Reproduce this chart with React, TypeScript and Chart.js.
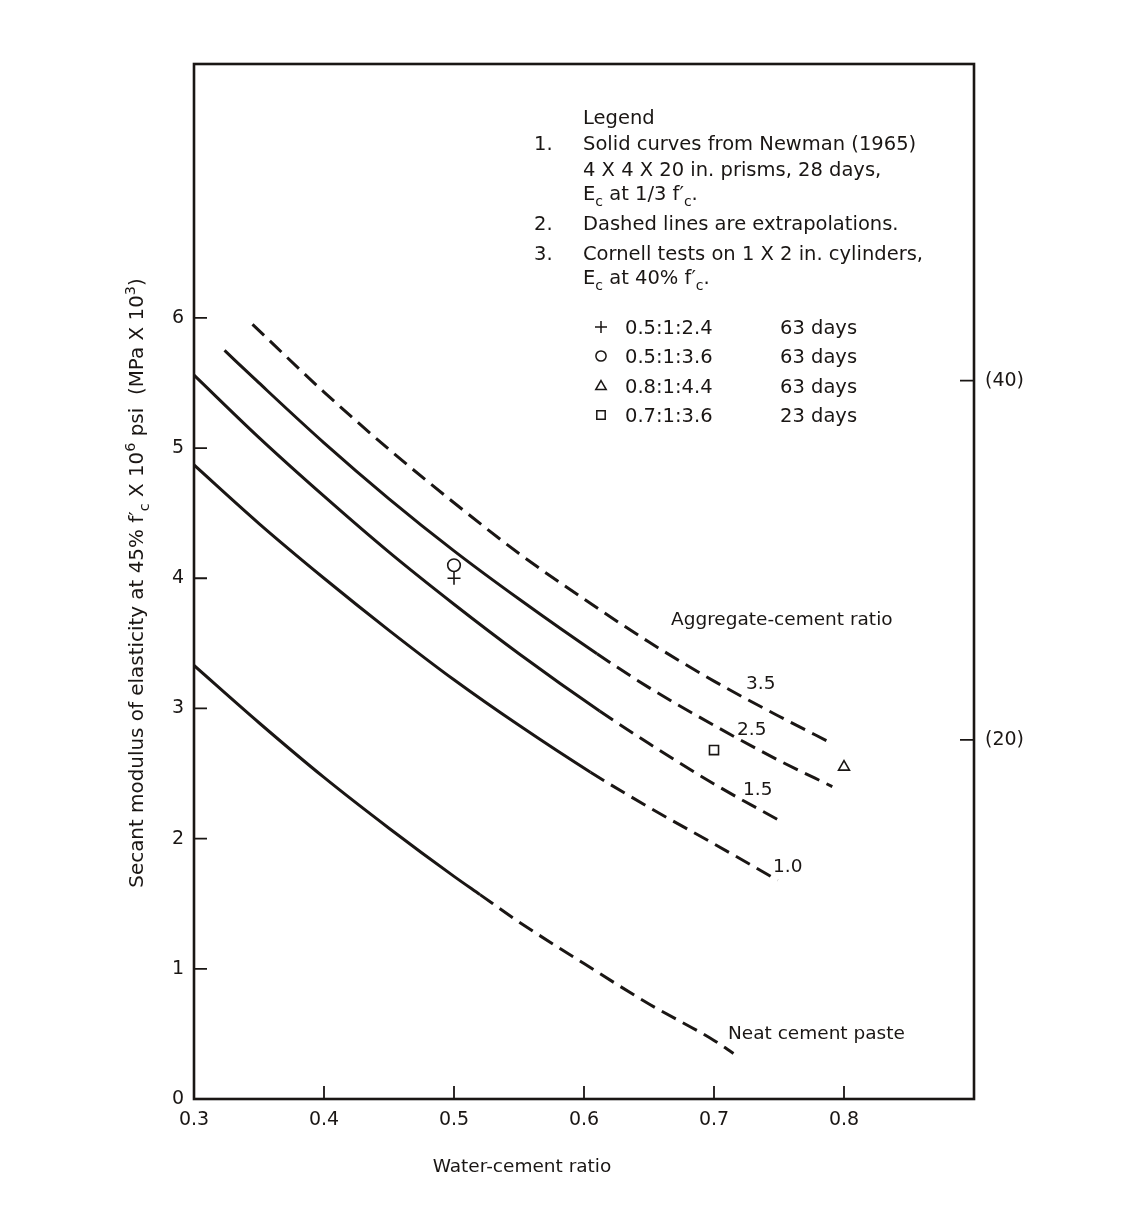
import React, { useEffect, useRef } from 'react';
import { Chart, registerables } from 'chart.js';

Chart.register(...registerables);

// ---------------- data ----------------
const xTickValues = [0.3, 0.4, 0.5, 0.6, 0.7, 0.8];
const yTickValues = [0, 1, 2, 3, 4, 5, 6];
const mpaTickValues = [20, 40];

const curveNames = ['Neat cement paste', '1.0', '1.5', '2.5', '3.5'];

const neatWC = [0.30, 0.35, 0.40, 0.45, 0.50, 0.52, 0.55, 0.60, 0.65, 0.70, 0.715];
const neatE = [3.33, 2.89, 2.47, 2.08, 1.71, 1.57, 1.36, 1.04, 0.73, 0.45, 0.35];

const ac10WC = [0.30, 0.35, 0.40, 0.45, 0.50, 0.55, 0.605, 0.65, 0.70, 0.749];
const ac10E = [4.87, 4.42, 4.00, 3.60, 3.22, 2.87, 2.51, 2.24, 1.96, 1.68];

const ac15WC = [0.30, 0.35, 0.40, 0.45, 0.50, 0.55, 0.612, 0.65, 0.70, 0.752];
const ac15E = [5.56, 5.08, 4.63, 4.20, 3.80, 3.42, 2.98, 2.73, 2.42, 2.13];

const ac25WC = [0.3235, 0.35, 0.40, 0.45, 0.50, 0.55, 0.61, 0.65, 0.70, 0.75, 0.791];
const ac25E = [5.75, 5.50, 5.04, 4.61, 4.21, 3.84, 3.42, 3.16, 2.87, 2.60, 2.40];

const ac35WC = [0.345, 0.40, 0.45, 0.50, 0.55, 0.60, 0.65, 0.70, 0.75, 0.791];
const ac35E = [5.95, 5.43, 4.99, 4.58, 4.19, 3.84, 3.51, 3.21, 2.94, 2.73];

// water-cement ratio beyond which each curve is an extrapolation (dashed)
const extrapolationFrom = [0.52, 0.605, 0.612, 0.61, 0.345];

const cornellWC = [0.5, 0.5, 0.8, 0.7];
const cornellE = [4.0, 4.1, 2.55, 2.68];
const cornellMix = ['0.5:1:2.4', '0.5:1:3.6', '0.8:1:4.4', '0.7:1:3.6'];
const cornellAge = ['63 days', '63 days', '63 days', '23 days'];
const cornellSymbol = ['cross', 'circle', 'triangle', 'rect'];

// ---------------- styling / layout ----------------
const FONT = '"DejaVu Sans", "Liberation Sans", sans-serif';
const INK = '#1a1614';
const W = 1134;
const H = 1222;
const AREA = { left: 194, top: 64, right: 974, bottom: 1099 };
const Y_MAX = 7.95;
const MPA_PER_UNIT = 7.25;

type Part = { t: string; sub?: boolean; sup?: boolean };

function partsWidth(ctx: CanvasRenderingContext2D, parts: Part[], size: number) {
  let w = 0;
  for (const p of parts) {
    const s = p.sub || p.sup ? size * 0.72 : size;
    ctx.font = `${s}px ${FONT}`;
    w += ctx.measureText(p.t).width;
  }
  return w;
}

function drawParts(ctx: CanvasRenderingContext2D, parts: Part[], x: number, y: number, size: number) {
  let cx = x;
  for (const p of parts) {
    const s = p.sub || p.sup ? size * 0.72 : size;
    ctx.font = `${s}px ${FONT}`;
    const dy = p.sub ? size * 0.32 : p.sup ? -size * 0.42 : 0;
    ctx.fillText(p.t, cx, y + dy);
    cx += ctx.measureText(p.t).width;
  }
}

const legendLines: { num?: string; parts: Part[]; y: number }[] = [
  { parts: [{ t: 'Legend' }], y: 124 },
  { num: '1.', parts: [{ t: 'Solid curves from Newman (1965)' }], y: 150 },
  { parts: [{ t: '4 X 4 X 20 in. prisms, 28 days,' }], y: 176 },
  { parts: [{ t: 'E' }, { t: 'c', sub: true }, { t: ' at 1/3 f′' }, { t: 'c', sub: true }, { t: '.' }], y: 200 },
  { num: '2.', parts: [{ t: 'Dashed lines are extrapolations.' }], y: 230 },
  { num: '3.', parts: [{ t: 'Cornell tests on 1 X 2 in. cylinders,' }], y: 260 },
  { parts: [{ t: 'E' }, { t: 'c', sub: true }, { t: ' at 40% f′' }, { t: 'c', sub: true }, { t: '.' }], y: 284 },
];
const legendRowY = [334, 363, 393, 422];

const curveLabelPos = [
  { x: 728, y: 1039 },
  { x: 773, y: 872 },
  { x: 743, y: 795 },
  { x: 737, y: 735 },
  { x: 746, y: 689 },
];

function drawSymbol(ctx: CanvasRenderingContext2D, kind: string, x: number, y: number, r: number) {
  ctx.beginPath();
  if (kind === 'cross') {
    ctx.moveTo(x - r, y); ctx.lineTo(x + r, y);
    ctx.moveTo(x, y - r); ctx.lineTo(x, y + r);
  } else if (kind === 'circle') {
    ctx.arc(x, y, r * 0.85, 0, Math.PI * 2);
  } else if (kind === 'triangle') {
    const h = r * 1.5;
    ctx.moveTo(x, y - h * 0.6); ctx.lineTo(x + r * 0.87, y + h * 0.4); ctx.lineTo(x - r * 0.87, y + h * 0.4); ctx.closePath();
  } else {
    const s = r * 0.7;
    ctx.rect(x - s, y - s, 2 * s, 2 * s);
  }
  ctx.stroke();
}

const overlay = {
  id: 'overlay',
  beforeDraw(chart: any) {
    const { ctx } = chart;
    ctx.save();
    ctx.fillStyle = '#ffffff';
    ctx.fillRect(0, 0, chart.width, chart.height);
    ctx.restore();
  },
  afterDraw(chart: any) {
    const { ctx, chartArea: a, scales } = chart;
    ctx.save();
    ctx.strokeStyle = INK;
    ctx.fillStyle = INK;
    // frame
    ctx.lineWidth = 2.6;
    ctx.strokeRect(a.left, a.top, a.right - a.left, a.bottom - a.top);
    // inward tick marks
    ctx.lineWidth = 1.8;
    ctx.beginPath();
    for (const v of yTickValues) {
      if (v === 0) continue;
      const py = scales.y.getPixelForValue(v);
      ctx.moveTo(a.left, py); ctx.lineTo(a.left + 13, py);
    }
    for (const v of xTickValues) {
      if (v === 0.3) continue;
      const px = scales.x.getPixelForValue(v);
      ctx.moveTo(px, a.bottom); ctx.lineTo(px, a.bottom - 13);
    }
    for (const v of mpaTickValues) {
      const py = scales.y2.getPixelForValue(v);
      ctx.moveTo(a.right, py); ctx.lineTo(a.right - 14, py);
    }
    ctx.stroke();

    ctx.textAlign = 'left';
    ctx.textBaseline = 'alphabetic';
    // legend block
    for (const line of legendLines) {
      if (line.num) {
        ctx.font = `19.5px ${FONT}`;
        ctx.fillText(line.num, 534, line.y);
      }
      drawParts(ctx, line.parts, 583, line.y, 19.5);
    }
    ctx.lineWidth = 1.5;
    cornellMix.forEach((mix, i) => {
      const y = legendRowY[i];
      drawSymbol(ctx, cornellSymbol[i], 601, y - 7, 6);
      ctx.font = `19.5px ${FONT}`;
      ctx.fillText(mix, 625, y);
      ctx.fillText(cornellAge[i], 780, y);
    });

    // curve labels
    ctx.font = `18.5px ${FONT}`;
    ctx.fillText('Aggregate-cement ratio', 671, 625);
    curveNames.forEach((name, i) => {
      ctx.fillText(name, curveLabelPos[i].x, curveLabelPos[i].y);
    });

    // x title
    ctx.textAlign = 'center';
    ctx.font = `18.5px ${FONT}`;
    ctx.fillText('Water-cement ratio', 522, 1172);

    // y title (rotated)
    ctx.textAlign = 'left';
    const titleParts: Part[] = [
      { t: 'Secant modulus of elasticity at 45% f′' },
      { t: 'c', sub: true },
      { t: ' X 10' },
      { t: '6', sup: true },
      { t: ' psi  (MPa X 10' },
      { t: '3', sup: true },
      { t: ')' },
    ];
    const w20 = partsWidth(ctx, titleParts, 20);
    const size = 20 * 610 / w20;
    const tw = partsWidth(ctx, titleParts, size);
    ctx.translate(143, 583);
    ctx.rotate(-Math.PI / 2);
    drawParts(ctx, titleParts, -tw / 2, 0, size);
    ctx.restore();
  },
};

function curveDataset(xs: number[], ys: number[], dashFrom: number, label: string) {
  return {
    type: 'line' as const,
    label,
    data: xs.map((x, i) => ({ x, y: ys[i] })),
    borderColor: INK,
    borderWidth: 3,
    pointRadius: 0,
    fill: false,
    cubicInterpolationMode: 'monotone' as const,
    borderCapStyle: 'butt' as const,
    segment: {
      borderDash: (c: any) => (c.p0.parsed.x >= dashFrom - 1e-9 ? [16, 8] : undefined),
    },
  };
}

export default function App() {
  const ref = useRef<HTMLCanvasElement>(null);
  useEffect(() => {
    const canvas = ref.current!;
    const tickFont = { family: FONT, size: 19 };
    const chart = new Chart(canvas, {
      data: {
        datasets: [
          curveDataset(neatWC, neatE, extrapolationFrom[0], curveNames[0]),
          curveDataset(ac10WC, ac10E, extrapolationFrom[1], curveNames[1]),
          curveDataset(ac15WC, ac15E, extrapolationFrom[2], curveNames[2]),
          curveDataset(ac25WC, ac25E, extrapolationFrom[3], curveNames[3]),
          curveDataset(ac35WC, ac35E, extrapolationFrom[4], curveNames[4]),
          {
            type: 'scatter' as const,
            label: 'Cornell tests',
            data: cornellWC.map((x, i) => ({ x, y: cornellE[i] })),
            pointStyle: cornellSymbol as any,
            pointRadius: [6.5, 6.3, 6.3, 6.4],
            pointBorderWidth: 1.6,
            pointBorderColor: INK,
            pointBackgroundColor: 'rgba(0,0,0,0)',
            showLine: false,
          } as any,
        ],
      },
      options: {
        responsive: false,
        animation: false,
        devicePixelRatio: 1,
        layout: { padding: { top: AREA.top, left: 0, right: 0, bottom: 0 } },
        plugins: { legend: { display: false }, tooltip: { enabled: false } },
        scales: {
          x: {
            type: 'linear',
            min: 0.3,
            max: 0.9,
            grid: { display: false, drawTicks: false },
            border: { display: false },
            afterBuildTicks: (s: any) => { s.ticks = xTickValues.map((v) => ({ value: v })); },
            afterFit: (s: any) => { s.height = H - AREA.bottom; },
            ticks: {
              autoSkip: false,
              maxRotation: 0,
              padding: 10,
              color: INK,
              font: tickFont,
              callback: (v: any) => Number(v).toFixed(1),
            },
          },
          y: {
            type: 'linear',
            min: 0,
            max: Y_MAX,
            grid: { display: false, drawTicks: false },
            border: { display: false },
            afterBuildTicks: (s: any) => { s.ticks = yTickValues.map((v) => ({ value: v })); },
            afterFit: (s: any) => { s.width = AREA.left; },
            ticks: { autoSkip: false, padding: 10, color: INK, font: tickFont, callback: (v: any) => String(v) },
          },
          y2: {
            type: 'linear',
            position: 'right',
            min: 0,
            max: Y_MAX * MPA_PER_UNIT,
            grid: { display: false, drawTicks: false },
            border: { display: false },
            afterBuildTicks: (s: any) => { s.ticks = mpaTickValues.map((v) => ({ value: v })); },
            afterFit: (s: any) => { s.width = W - AREA.right; },
            ticks: { autoSkip: false, padding: 11, color: INK, font: tickFont, callback: (v: any) => `(${v})` },
          },
        },
      } as any,
      plugins: [overlay],
    } as any);
    return () => chart.destroy();
  }, []);
  return (
    <canvas
      ref={ref}
      width={W}
      height={H}
      style={{ position: 'absolute', left: 0, top: 0, display: 'block' }}
    />
  );
}
